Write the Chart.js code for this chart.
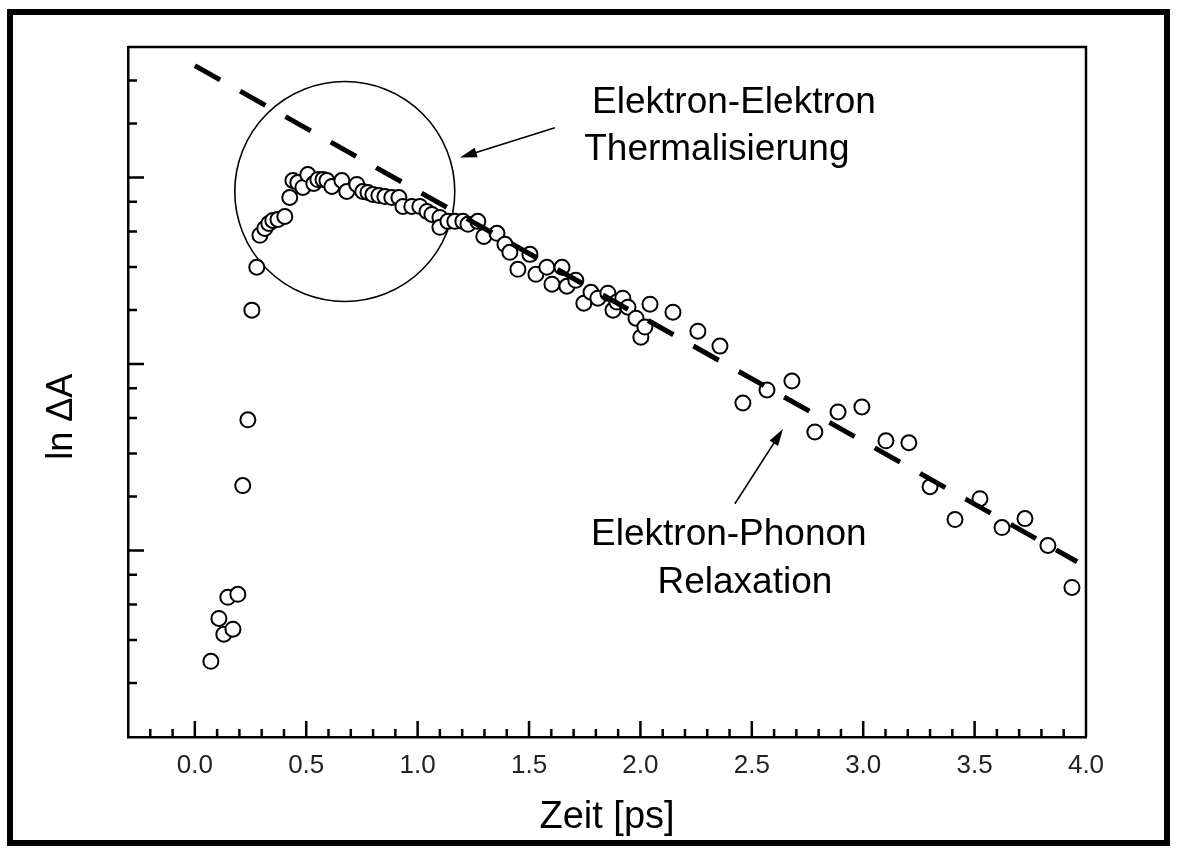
<!DOCTYPE html>
<html>
<head>
<meta charset="utf-8">
<script src="https://cdn.jsdelivr.net/npm/chart.js@4.4.1/dist/chart.umd.min.js"></script>
<style>
  html, body { margin: 0; padding: 0; background: #fff; }
  #wrap { position: relative; width: 1177px; height: 848px; overflow: hidden; }
  #frame { position: absolute; left: 7px; top: 9px; width: 1163px; height: 837px; box-sizing: border-box; border: 6px solid #000; }
  #chart { position: absolute; left: 0; top: 0; }
</style>
</head>
<body>
<div id="wrap">
  <div id="frame"></div>
  <canvas id="chart" width="1177" height="848"></canvas>
</div>
<script>
// measured points (time in ps, ln of the absorption change, arbitrary offset)
const timePs = [0.072,0.108,0.130,0.148,0.171,0.193,0.215,0.238,0.256,0.278,
  0.292,0.314,0.332,0.350,0.373,0.404,0.426,0.440,0.462,0.485,
  0.507,0.534,0.552,0.575,0.593,0.615,0.660,0.682,0.727,0.754,
  0.777,0.799,0.826,0.853,0.884,0.916,0.934,0.974,1.010,1.042,
  1.064,1.100,1.100,1.136,1.167,1.203,1.226,1.270,1.297,1.356,
  1.392,1.414,1.450,1.504,1.531,1.580,1.603,1.648,1.670,1.710,
  1.746,1.778,1.809,1.854,1.877,1.894,1.921,1.944,1.980,2.002,
  2.020,2.043,2.146,2.258,2.357,2.460,2.568,2.680,2.783,2.887,
  2.994,3.102,3.205,3.300,3.412,3.524,3.623,3.726,3.829,3.937];
const lnDA = [0.406,0.636,0.551,0.749,0.578,0.765,1.348,1.701,2.289,2.519,
  2.690,2.727,2.754,2.770,2.775,2.791,2.893,2.984,2.973,2.947,
  3.016,2.968,2.989,2.989,2.984,2.952,2.984,2.925,2.963,2.925,
  2.920,2.909,2.904,2.898,2.893,2.893,2.845,2.845,2.845,2.818,
  2.802,2.786,2.733,2.765,2.765,2.765,2.749,2.765,2.684,2.701,
  2.642,2.599,2.508,2.588,2.481,2.519,2.428,2.519,2.417,2.449,
  2.326,2.385,2.353,2.380,2.289,2.332,2.353,2.305,2.246,2.144,
  2.198,2.321,2.278,2.176,2.096,1.791,1.861,1.909,1.636,1.743,
  1.770,1.588,1.578,1.342,1.166,1.278,1.123,1.171,1.027,0.802];

// linear fit (electron-phonon relaxation)
const fitTime = [0.0, 3.96];
const fitLn = [3.60, 0.94];

// axis ticks
const xMajorTicks = [0.0, 0.5, 1.0, 1.5, 2.0, 2.5, 3.0, 3.5, 4.0];
const xTickLabels = ['0.0', '0.5', '1.0', '1.5', '2.0', '2.5', '3.0', '3.5', '4.0'];
const yMajorTicks = [1, 2, 3];
const yMinorTicks = [0.29, 0.52, 0.71, 0.87, 1.29, 1.52, 1.71, 1.87, 2.29, 2.52, 2.71, 2.87, 3.29, 3.52];

const FONT = '"Liberation Sans", Arial, sans-serif';
Chart.defaults.font.family = FONT;
Chart.defaults.color = '#000';

// minor x ticks every 0.1 ps, skipping the labelled ones
const xMinorTicks = [];
for (let i = -2; i < 40; i++) {
    if (i % 5 !== 0) xMinorTicks.push(i / 10);
}

// plot box top/right edges and inward tick marks
const frameTicks = {
    id: 'frameTicks',
    beforeDatasetsDraw(chart) {
        const { ctx, chartArea: a, scales: { x, y } } = chart;
        ctx.save();
        ctx.strokeStyle = '#000';
        ctx.lineWidth = 2.5;
        ctx.beginPath();
        ctx.moveTo(a.left, a.top);
        ctx.lineTo(a.right, a.top);
        ctx.lineTo(a.right, a.bottom);
        xMajorTicks.forEach(v => {
            const px = x.getPixelForValue(v);
            ctx.moveTo(px, a.bottom);
            ctx.lineTo(px, a.bottom - 16);
        });
        xMinorTicks.forEach(v => {
            const px = x.getPixelForValue(v);
            ctx.moveTo(px, a.bottom);
            ctx.lineTo(px, a.bottom - 8);
        });
        yMajorTicks.forEach(v => {
            const py = y.getPixelForValue(v);
            ctx.moveTo(a.left, py);
            ctx.lineTo(a.left + 16, py);
        });
        yMinorTicks.forEach(v => {
            const py = y.getPixelForValue(v);
            ctx.moveTo(a.left, py);
            ctx.lineTo(a.left + 9, py);
        });
        ctx.stroke();

        // circle round the thermalisation region
        ctx.lineWidth = 1.6;
        ctx.beginPath();
        ctx.arc(x.getPixelForValue(0.673), y.getPixelForValue(2.925), 110, 0, Math.PI * 2);
        ctx.stroke();
        ctx.restore();
    }
};

function drawArrow(ctx, x1, y1, x2, y2) {
    const ang = Math.atan2(y2 - y1, x2 - x1);
    const head = 17, half = 5;
    const c = Math.cos(ang), s = Math.sin(ang);
    ctx.beginPath();
    ctx.moveTo(x1, y1);
    ctx.lineTo(x2 - head * 0.8 * c, y2 - head * 0.8 * s);
    ctx.stroke();
    ctx.beginPath();
    ctx.moveTo(x2, y2);
    ctx.lineTo(x2 - head * c + half * s, y2 - head * s - half * c);
    ctx.lineTo(x2 - head * c - half * s, y2 - head * s + half * c);
    ctx.closePath();
    ctx.fill();
}

// annotation texts, arrows and the rotated y title
const notes = {
    id: 'notes',
    afterDatasetsDraw(chart) {
        const { ctx, chartArea: a, scales: { x, y } } = chart;
        const X = v => x.getPixelForValue(v);
        const Y = v => y.getPixelForValue(v);
        ctx.save();
        ctx.fillStyle = '#000';
        ctx.strokeStyle = '#000';
        ctx.lineWidth = 1.6;
        drawArrow(ctx, X(1.616), Y(3.267), X(1.190), Y(3.107));
        drawArrow(ctx, X(2.424), Y(1.251), X(2.640), Y(1.652));

        ctx.font = '37px ' + FONT;
        ctx.textAlign = 'center';
        ctx.textBaseline = 'alphabetic';
        ctx.fillText('Elektron-Elektron', X(2.42), Y(3.348));
        ctx.fillText('Thermalisierung', X(2.343), Y(3.096));
        ctx.fillText('Elektron-Phonon', X(2.397), Y(1.027));
        ctx.fillText('Relaxation', X(2.469), Y(0.770));

        ctx.font = '36px ' + FONT;
        ctx.translate(a.left - 66, Y(1.717));
        ctx.rotate(-Math.PI / 2);
        ctx.textBaseline = 'middle';
        ctx.fillText('ln \u0394A', 0, 0);
        ctx.restore();
    }
};

const measured = timePs.map((t, i) => ({ x: t, y: lnDA[i] }));
const fitLine = fitTime.map((t, i) => ({ x: t, y: fitLn[i] }));

new Chart(document.getElementById('chart'), {
    type: 'scatter',
    data: {
        datasets: [{
            label: 'Fit',
            data: fitLine,
            showLine: true,
            order: 0,
            borderColor: '#000',
            borderWidth: 5,
            borderDash: [29, 23],
            borderCapStyle: 'butt',
            pointRadius: 0,
            fill: false
        }, {
            label: 'Messung',
            data: measured,
            order: 1,
            pointStyle: 'circle',
            pointRadius: 7.5,
            pointBorderWidth: 2,
            pointBackgroundColor: '#fff',
            pointBorderColor: '#000'
        }]
    },
    options: {
        responsive: false,
        animation: false,
        devicePixelRatio: 1,
        layout: { padding: { left: 0, top: 47, right: 91, bottom: 0 } },
        plugins: {
            legend: { display: false },
            tooltip: { enabled: false }
        },
        scales: {
            x: {
                type: 'linear',
                min: -0.3,
                max: 4.0,
                afterBuildTicks: s => { s.ticks = xMajorTicks.map(v => ({ value: v })); },
                afterFit: s => { s.height = 111; },
                ticks: {
                    callback: (v, i) => xTickLabels[i],
                    font: { size: 26 },
                    color: '#222',
                    padding: 13,
                    maxRotation: 0,
                    autoSkip: false
                },
                grid: { display: false, drawTicks: false },
                border: { display: true, color: '#000', width: 2.5 },
                title: {
                    display: true,
                    text: 'Zeit [ps]',
                    font: { size: 38 },
                    color: '#000',
                    padding: { top: 0, bottom: 8 }
                }
            },
            y: {
                type: 'linear',
                min: 0,
                max: 3.70,
                afterFit: s => { s.width = 128; },
                ticks: { display: false },
                grid: { display: false, drawTicks: false },
                border: { display: true, color: '#000', width: 2.5 }
            }
        }
    },
    plugins: [frameTicks, notes]
});
</script>
</body>
</html>
